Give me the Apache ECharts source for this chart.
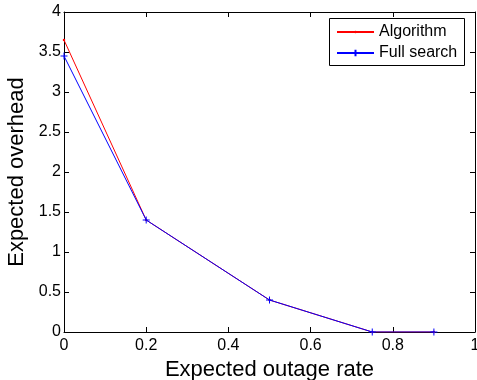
<!DOCTYPE html>
<html><head><meta charset="utf-8">
<script src="https://cdn.jsdelivr.net/npm/echarts@6/dist/echarts.min.js"></script>
<style>html,body{margin:0;padding:0;background:#fff}#c{width:477px;height:380px}</style>
</head><body><div id="c"></div>
<script>
const xValues = [0, 0.2, 0.5, 0.75, 0.9];
const algorithm = [3.65, 1.4, 0.4, 0, 0];
const fullSearch = [3.45, 1.4, 0.4, 0, 0];
const seriesNames = ['Algorithm', 'Full search'];
const xTitle = 'Expected outage rate';
const yTitle = 'Expected overhead';

const font = 'Liberation Sans, Arial, sans-serif';
const chart = echarts.init(document.getElementById('c'));
const plus = 'path://M0,5L10,5M5,0L5,10';
const axisCommon = {
  axisLine: {show: true, onZero: false, lineStyle: {color: '#000', width: 1}},
  axisTick: {show: true, inside: true, length: 5, lineStyle: {color: '#000'}},
  splitLine: {show: false}
};
const legendCommon = {
  orient: 'horizontal', left: 336, itemWidth: 37, itemGap: 0, padding: 0,
  textStyle: {fontFamily: font, fontSize: 16, color: '#000', lineHeight: 18, padding: [0, 0, 0, 0]}
};
chart.setOption({
  animation: false,
  backgroundColor: '#fff',
  grid: {left: 64, right: 2, top: 12, bottom: 48, containLabel: false, outerBoundsMode: 'none'},
  xAxis: [
    Object.assign({type: 'value', min: 0, max: 1, interval: 0.2, position: 'bottom',
      name: xTitle, nameLocation: 'middle', nameGap: 24,
      nameTextStyle: {fontFamily: font, fontSize: 22, color: '#000'},
      axisLabel: {fontFamily: font, fontSize: 16, color: '#000', margin: 6}}, axisCommon),
    Object.assign({type: 'value', min: 0, max: 1, interval: 0.2, position: 'top',
      axisLabel: {show: false}}, axisCommon)
  ],
  yAxis: [
    Object.assign({type: 'value', min: 0, max: 4, interval: 0.5, position: 'left',
      name: yTitle, nameLocation: 'middle', nameGap: 35,
      nameTextStyle: {fontFamily: font, fontSize: 22, color: '#000'},
      axisLabel: {fontFamily: font, fontSize: 16, color: '#000', margin: 3}}, axisCommon),
    Object.assign({type: 'value', min: 0, max: 4, interval: 0.5, position: 'right',
      axisLabel: {show: false}}, axisCommon)
  ],
  graphic: [{type: 'rect', left: 329, top: 18, z: 10,
    shape: {width: 135, height: 47}, style: {fill: '#fff', stroke: '#000', lineWidth: 1}}],
  legend: [
    Object.assign({top: 23, data: [seriesNames[0]], itemHeight: 3, z: 20}, legendCommon),
    Object.assign({top: 44, data: [seriesNames[1]], itemHeight: 8, z: 20}, legendCommon)
  ],
  series: [
    {name: seriesNames[0], type: 'line', data: xValues.map((x, i) => [x, algorithm[i]]),
      lineStyle: {color: '#ff0000', width: 1}, itemStyle: {color: '#ff0000'},
      symbol: 'circle', symbolSize: 2.5, showSymbol: true, z: 2},
    {name: seriesNames[1], type: 'line', data: xValues.map((x, i) => [x, fullSearch[i]]),
      lineStyle: {color: '#0000ff', width: 1},
      itemStyle: {color: 'none', borderColor: '#0000ff', borderWidth: 1},
      symbol: plus, symbolSize: 7, showSymbol: true, z: 3}
  ]
});
</script></body></html>
